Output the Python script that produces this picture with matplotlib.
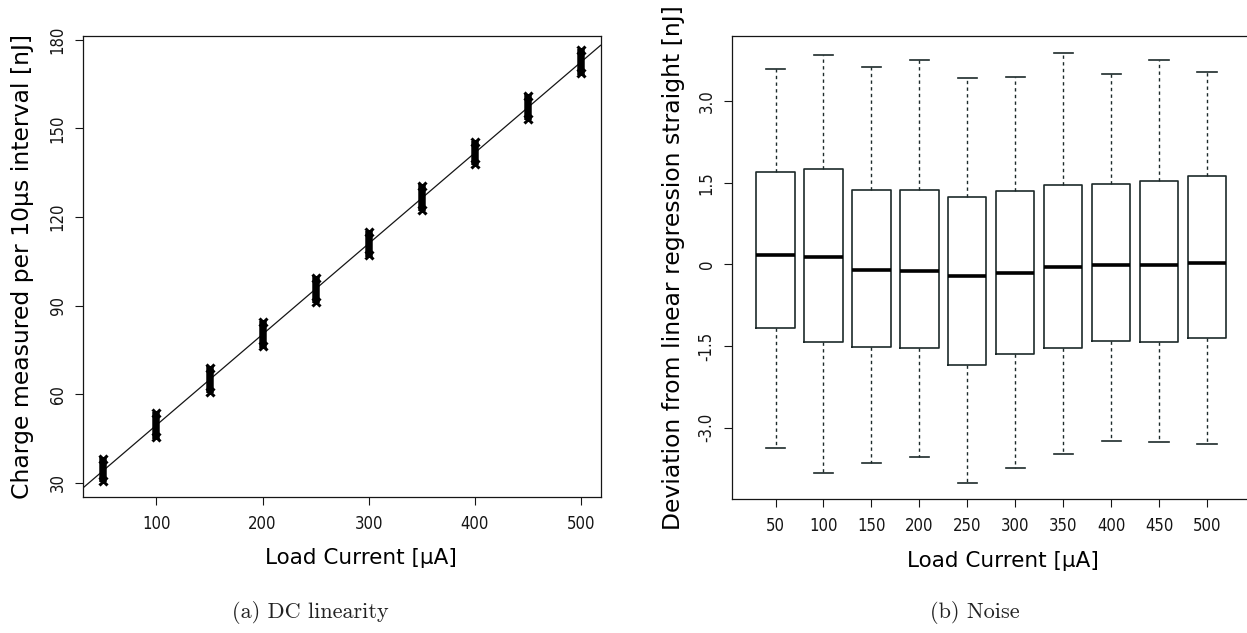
import numpy as np
import matplotlib
matplotlib.use("Agg")
import matplotlib.pyplot as plt
from matplotlib import font_manager

# ---------------- data ----------------
currents = [50, 100, 150, 200, 250, 300, 350, 400, 450, 500]   # load current [uA]

# (a) DC linearity: range of measured charge per current [nJ]
charge_lo = [29.8, 44.5, 60.0, 75.3, 90.4, 106.1, 121.5, 137.2, 152.4, 167.8]
charge_hi = [39.0, 54.5, 69.9, 85.2, 100.4, 115.8, 131.5, 146.3, 162.0, 177.4]

# (b) Noise: boxplot statistics of deviation from regression [nJ]
whis_lo = [-3.37, -3.84, -3.64, -3.54, -4.01, -3.74, -3.48, -3.25, -3.26, -3.30]
q1 = [-1.17, -1.43, -1.51, -1.54, -1.85, -1.65, -1.53, -1.41, -1.43, -1.35]
med = [0.18, 0.14, -0.10, -0.12, -0.21, -0.15, -0.05, -0.01, -0.01, 0.03]
q3 = [1.70, 1.75, 1.37, 1.36, 1.24, 1.34, 1.45, 1.48, 1.53, 1.62]
whis_hi = [3.58, 3.84, 3.63, 3.76, 3.43, 3.45, 3.89, 3.49, 3.76, 3.53]

yticks_a = [30, 60, 90, 120, 150, 180]
xticks_a = [100, 200, 300, 400, 500]
yticks_b = [-3.0, -1.5, 0.0, 1.5, 3.0]
yticklabels_b = ["-3.0", "-1.5", "0", "1.5", "3.0"]

# ---------------- fonts ----------------
sans = "DejaVu Sans"
cond = None
for f in font_manager.fontManager.ttflist:
    if f.name == "DejaVu Sans" and ("Condensed" in f.fname) and f.weight in (400, "normal") and f.style == "normal":
        cond = f.fname
        break
tick_fp = font_manager.FontProperties(fname=cond, size=12) if cond else font_manager.FontProperties(family=sans, size=11)

INK = "#151515"
plt.rcParams["font.family"] = sans
plt.rcParams["axes.edgecolor"] = INK
plt.rcParams["axes.linewidth"] = 0.9

fig = plt.figure(figsize=(12.47, 6.33), dpi=100)
ax1 = fig.add_axes([0.0668, 0.2148, 0.4148, 0.7288])
ax2 = fig.add_axes([0.5873, 0.2117, 0.4152, 0.7319])

# ---------------- panel (a) ----------------
x = np.array(currents, dtype=float)
lo = np.array(charge_lo)
hi = np.array(charge_hi)
ax1.vlines(x, lo + 0.4, hi - 0.4, color="black", lw=5.4, capstyle="butt", zorder=3)
ax1.plot(np.r_[x, x], np.r_[lo + 0.9, hi - 0.9], ls="none", marker="x",
         ms=5.2, mew=2.2, color="black", zorder=3)
slope, icpt = np.polyfit(x, (lo + hi) / 2.0, 1)
ax1.axline((0, icpt), slope=slope, color=INK, lw=0.9, zorder=2)

ax1.set_xlim(31.1, 518.3)
ax1.set_ylim(25.2, 181.4)
ax1.set_xticks(xticks_a)
ax1.set_yticks(yticks_a)

# ---------------- panel (b) ----------------
stats = []
for i in range(len(currents)):
    stats.append(dict(med=med[i], q1=q1[i], q3=q3[i], whislo=whis_lo[i],
                      whishi=whis_hi[i], fliers=[]))
pos = np.arange(1, len(currents) + 1)
ax2.bxp(stats, positions=pos, widths=0.8, showfliers=False, patch_artist=False,
        boxprops=dict(color="#1c2a2a", lw=1.2),
        medianprops=dict(color="black", lw=2.6, solid_capstyle="butt"),
        whiskerprops=dict(color="#1c2a2a", lw=1.0, linestyle=(0, (2.4, 2.4))),
        capprops=dict(color="#1c2a2a", lw=1.2), capwidths=0.4)
ax2.set_xlim(0.1, 10.9)
ax2.set_ylim(-4.31, 4.20)
ax2.set_xticks(pos)
ax2.set_xticklabels([str(c) for c in currents])
ax2.set_yticks(yticks_b)
ax2.set_yticklabels(yticklabels_b)

# ---------------- common styling ----------------
for ax in (ax1, ax2):
    ax.tick_params(axis="both", direction="out", length=6, width=0.8, color=INK)
    ax.tick_params(axis="x", pad=7)
    ax.tick_params(axis="y", pad=6)
    for lab in ax.get_xticklabels():
        lab.set_fontproperties(tick_fp)
        lab.set_color(INK)
    for lab in ax.get_yticklabels():
        lab.set_fontproperties(tick_fp)
        lab.set_rotation(90)
        lab.set_va("center")
        lab.set_color(INK)
    for s in ax.spines.values():
        s.set_color(INK)

ax1.set_ylabel("Charge measured per 10\u03bcs interval [nJ]", fontsize=16.9, va="center", color="black")
ax1.yaxis.set_label_coords(-0.1185, 0.5)
ax1.set_xlabel("Load Current [\u03bcA]", fontsize=15.5, va="center", color="black")
ax1.xaxis.set_label_coords(0.537, -0.132)

ax2.set_ylabel("Deviation from linear regression straight [nJ]", fontsize=16.9, va="center", color="black")
ax2.yaxis.set_label_coords(-0.1145, 0.5)
ax2.set_xlabel("Load Current [\u03bcA]", fontsize=15.5, va="center", color="black")
ax2.xaxis.set_label_coords(0.522, -0.134)

fig.text(310 / 1247, 1 - 613 / 633, "(a) DC linearity", family="cmr10", fontsize=16,
         ha="center", va="center", color="#222222")
fig.text(975 / 1247, 1 - 613 / 633, "(b) Noise", family="cmr10", fontsize=16,
         ha="center", va="center", color="#222222")

fig.savefig("out.png", dpi=100)
